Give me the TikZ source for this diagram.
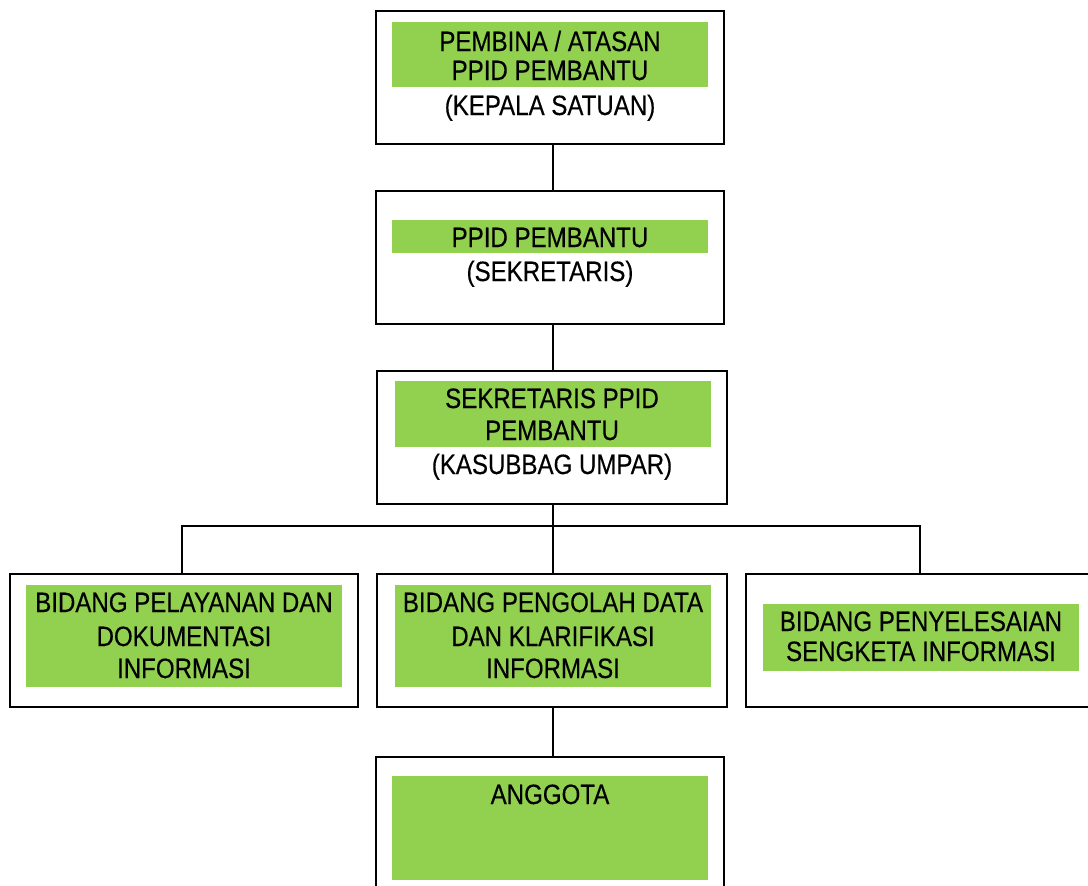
\documentclass[tikz,border=0pt]{standalone}
\usepackage{fontspec}
\setmainfont{Liberation Sans}[FakeStretch=0.86,FakeBold=0.3]
\definecolor{lgreen}{HTML}{92D050}
\begin{document}
\begin{tikzpicture}[x=1pt,y=-1pt,
  outer/.style={draw=black,line width=1.6pt,minimum width=348pt,minimum height=133pt,inner sep=0pt},
  gfill/.style={fill=lgreen},
  txt/.style={inner sep=0pt,text height=20pt,text depth=0pt,anchor=center,font=\fontsize{28}{32}\selectfont},
  conn/.style={line width=1.6pt,black}]
\useasboundingbox (0,0) rectangle (1088,886);
\clip (0,0) rectangle (1088,886);
% outer boxes
\node[outer] (b1) at (550,77.5) {};
\node[outer] (b2) at (550,257.5) {};
\node[outer,minimum width=350pt] (b3) at (552,437.5) {};
\node[outer] (b4) at (184,640.5) {};
\node[outer,minimum width=350pt] (b5) at (552,640.5) {};
\node[outer] (b6) at (920,640.5) {};
\node[outer] (b7) at (550,823.5) {};
% green fills
\path[gfill] (392,22) rectangle (708,87);
\path[gfill] (392,220) rectangle (708,253);
\path[gfill] (395,381) rectangle (711,447);
\path[gfill] (26,585) rectangle (342,687);
\path[gfill] (395,585) rectangle (711,687);
\path[gfill] (763,604) rectangle (1079,671);
\path[gfill] (392,776) rectangle (708,880);
% texts
\node[txt] (t1a) at (550,41) {PEMBINA / ATASAN};
\node[txt] (t1b) at (550,70) {PPID PEMBANTU};
\node[txt] (t1c) at (550,105) {(KEPALA SATUAN)};
\node[txt] (t2a) at (550,237) {PPID PEMBANTU};
\node[txt] (t2b) at (550,271) {(SEKRETARIS)};
\node[txt] (t3a) at (552,398) {SEKRETARIS PPID};
\node[txt] (t3b) at (552,430) {PEMBANTU};
\node[txt] (t3c) at (552,464) {(KASUBBAG UMPAR)};
\node[txt] (t4a) at (184,602) {BIDANG PELAYANAN DAN};
\node[txt] (t4b) at (184,636) {DOKUMENTASI};
\node[txt] (t4c) at (184,668) {INFORMASI};
\node[txt] (t5a) at (553,602) {BIDANG PENGOLAH DATA};
\node[txt] (t5b) at (553,636) {DAN KLARIFIKASI};
\node[txt] (t5c) at (553,668) {INFORMASI};
\node[txt] (t6a) at (921,621) {BIDANG PENYELESAIAN};
\node[txt] (t6b) at (921,651) {SENGKETA INFORMASI};
\node[txt] (t7a) at (550,794) {ANGGOTA};
% connectors
\coordinate (j) at (553,526);
\draw[conn] ([xshift=3pt]b1.south) -- ([xshift=3pt]b2.north);
\draw[conn] ([xshift=3pt]b2.south) -- ([xshift=1pt]b3.north);
\draw[conn] ([xshift=1pt]b3.south) -- (j);
\draw[conn] ([xshift=-2pt]b4.north) |- (j) -| (b6.north);
\draw[conn] (j) -- ([xshift=1pt]b5.north);
\draw[conn] ([xshift=1pt]b5.south) -- ([xshift=3pt]b7.north);
\end{tikzpicture}
\end{document}
